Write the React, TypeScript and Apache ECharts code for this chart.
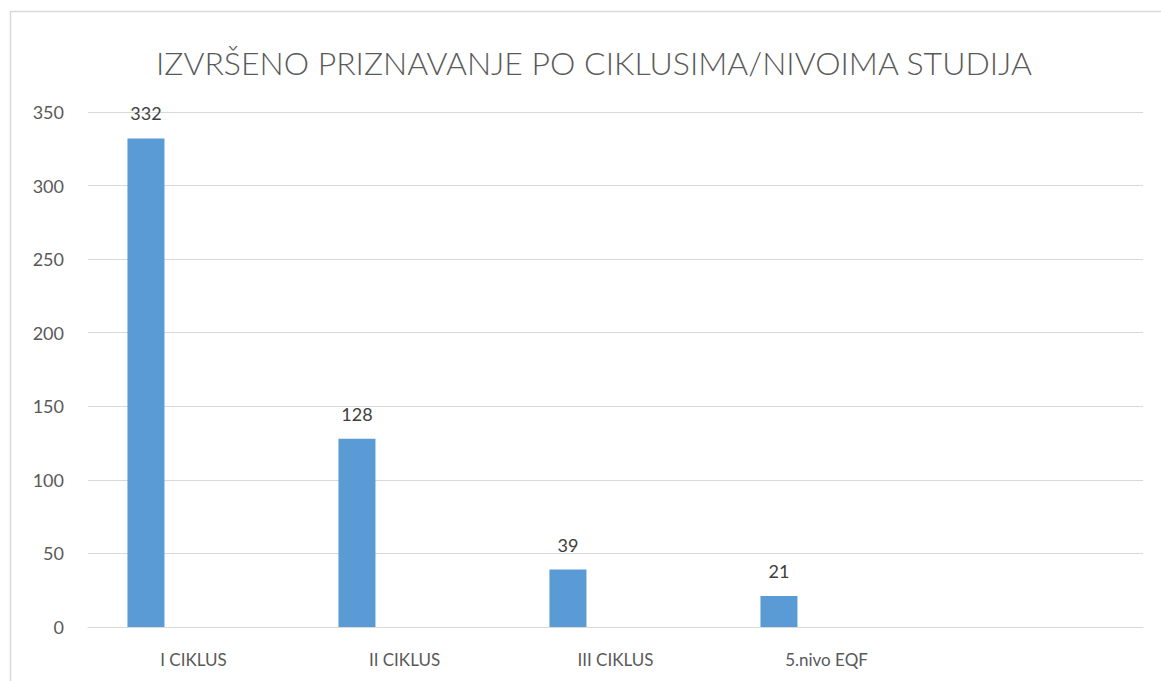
import React, { useEffect, useRef } from "react";
import * as echarts from "echarts";

const categories = ["I CIKLUS", "II CIKLUS", "III CIKLUS", "5.nivo EQF", ""];
const values = [332, 128, 39, 21, null];
const emptySeries = [null, null, null, null, null];
const yTicks = { min: 0, max: 350, interval: 50 };
const titleText = "IZVRŠENO PRIZNAVANJE PO CIKLUSIMA/NIVOIMA STUDIJA";

export default function App() {
  const ref = useRef<HTMLDivElement>(null);
  useEffect(() => {
    if (!ref.current) return;
    const chart = echarts.init(ref.current, null, { renderer: "svg" });
    const font = "Lato, 'Open Sans', sans-serif";
    chart.setOption({
      animation: false,
      backgroundColor: "#ffffff",
      title: {
        text: titleText,
        left: 589,
        textAlign: "center",
        top: 41,
        textStyle: { fontFamily: font, fontSize: 32, fontWeight: 300, color: "#595959" },
      },
      graphic: [
        {
          type: "rect",
          shape: { x: 10.5, y: 11.5, width: 1160, height: 700 },
          style: { fill: "none", stroke: "#d9d9d9", lineWidth: 1.5 },
          silent: true,
        },
      ],
      grid: { left: 88, right: 18, top: 112, bottom: 54, containLabel: false },
      xAxis: {
        type: "category",
        data: categories,
        axisLine: { show: true, lineStyle: { color: "#d9d9d9", width: 1 } },
        axisTick: { show: false },
        axisLabel: { color: "#595959", fontFamily: font, fontSize: 17, margin: 24, interval: 0 },
      },
      yAxis: {
        type: "value",
        min: yTicks.min,
        max: yTicks.max,
        interval: yTicks.interval,
        axisLine: { show: false },
        axisTick: { show: false },
        splitLine: { lineStyle: { color: "#d9d9d9", width: 1 } },
        axisLabel: { color: "#595959", fontFamily: font, fontSize: 18, margin: 24 },
      },
      series: [
        {
          type: "bar",
          data: values,
          barWidth: 37,
          barGap: "157%",
          itemStyle: { color: "#5b9bd5" },
          label: {
            show: true,
            position: "top",
            distance: 16,
            color: "#404040",
            fontFamily: font,
            fontSize: 18,
          },
        },
        {
          type: "bar",
          data: emptySeries,
          barWidth: 37,
          itemStyle: { color: "#ed7d31" },
        },
      ],
    });
    return () => chart.dispose();
  }, []);
  return (
    <div
      ref={ref}
      style={{ position: "fixed", left: 0, top: 0, width: 1161, height: 681 }}
    />
  );
}
